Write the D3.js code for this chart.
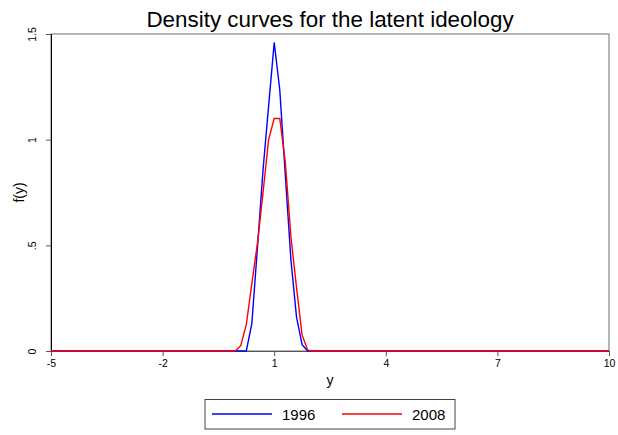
<!DOCTYPE html>
<html>
<head>
<meta charset="utf-8">
<script src="https://cdn.jsdelivr.net/npm/d3@7"></script>
<style>
  body { margin: 0; background: #fff; }
  text { font-family: "Liberation Sans", Arial, sans-serif; fill: #000; }
</style>
</head>
<body>
<div id="chart"></div>
<script>
// evaluation points of the density (zero outside this stretch)
var xs = [-5, -0.05, 0.1, 0.25, 0.4, 0.55, 0.7, 0.85, 1.0, 1.15, 1.3, 1.45, 1.6, 1.75, 1.9, 2.05, 10];
var d1996 = [0, 0, 0, 0, 0.131, 0.49, 0.857, 1.16, 1.46, 1.235, 0.83, 0.43, 0.16, 0.03, 0, 0, 0];
var d2008 = [0, 0, 0.025, 0.125, 0.32, 0.51, 0.75, 1.0, 1.10, 1.10, 0.89, 0.54, 0.30, 0.076, 0.004, 0, 0];
var xTicks = [-5, -2, 1, 4, 7, 10];
var yTicks = [0, 0.5, 1, 1.5];
var yTickLabels = ["0", ".5", "1", "1.5"];
var seriesNames = ["1996", "2008"];
var seriesColors = ["#0000ff", "#ff0000"];

var margin = {top: 34, right: 9, bottom: 84, left: 51},
    width = 618 - margin.left - margin.right,
    height = 435 - margin.top - margin.bottom;

var svg = d3.select("#chart")
    .append("svg")
    .attr("width", 618)
    .attr("height", 435);

var g = svg.append("g")
    .attr("transform", "translate(" + margin.left + "," + margin.top + ")");

var x = d3.scaleLinear().domain([-5, 10]).range([0, width]);
var y = d3.scaleLinear().domain([0, 1.5]).range([height, 0]);

// plot region frame
g.append("rect")
    .attr("x", 0).attr("y", 0)
    .attr("width", width).attr("height", height)
    .attr("fill", "none")
    .attr("stroke", "#6e6e6e")
    .attr("stroke-width", 1);

// y axis
var yAxis = g.append("g")
    .call(d3.axisLeft(y).tickValues(yTicks).tickSize(5)
        .tickFormat(function(d, i) { return yTickLabels[i]; }));
yAxis.select(".domain").attr("stroke", "#000");
yAxis.selectAll(".tick line").attr("stroke", "#555");
yAxis.selectAll(".tick text")
    .attr("x", 0).attr("dy", null)
    .attr("transform", "translate(-15,0) rotate(-90)")
    .attr("text-anchor", "middle")
    .style("font-size", "10.5px")
    .style("font-family", "'Liberation Sans', Arial, sans-serif");

// x axis
var xAxis = g.append("g")
    .attr("transform", "translate(0," + height + ")")
    .call(d3.axisBottom(x).tickValues(xTicks).tickSize(5)
        .tickFormat(function(d) { return String(d); }));
xAxis.select(".domain").attr("stroke", "#555");
xAxis.selectAll(".tick line").attr("stroke", "#555");
xAxis.selectAll(".tick text")
    .attr("y", 9)
    .style("font-size", "10.5px")
    .style("font-family", "'Liberation Sans', Arial, sans-serif");

// curves
var line = d3.line()
    .x(function(d) { return x(d[0]); })
    .y(function(d) { return y(d[1]); });

[d1996, d2008].forEach(function(vals, k) {
    g.append("path")
        .datum(xs.map(function(v, i) { return [v, vals[i]]; }))
        .attr("fill", "none")
        .attr("stroke", seriesColors[k])
        .attr("stroke-width", 1.4)
        .attr("stroke-linejoin", "miter")
        .attr("d", line);
});

// titles
svg.append("text")
    .attr("x", margin.left + width / 2)
    .attr("y", 27)
    .attr("text-anchor", "middle")
    .style("font-size", "22.4px")
    .text("Density curves for the latent ideology");

svg.append("text")
    .attr("x", margin.left + width / 2)
    .attr("y", 385)
    .attr("text-anchor", "middle")
    .style("font-size", "14px")
    .text("y");

svg.append("text")
    .attr("transform", "translate(23.5," + (margin.top + height / 2) + ") rotate(-90)")
    .attr("text-anchor", "middle")
    .style("font-size", "14px")
    .text("f(y)");

// legend
var legend = svg.append("g");
legend.append("rect")
    .attr("x", 205).attr("y", 399.5)
    .attr("width", 250).attr("height", 29.5)
    .attr("fill", "#fff")
    .attr("stroke", "#444")
    .attr("stroke-width", 1);

seriesNames.forEach(function(name, k) {
    var lx = 212 + k * 130;
    legend.append("line")
        .attr("x1", lx).attr("x2", lx + 60)
        .attr("y1", 414).attr("y2", 414)
        .attr("stroke", seriesColors[k])
        .attr("stroke-width", 1.4);
    legend.append("text")
        .attr("x", lx + 70)
        .attr("y", 419.5)
        .style("font-size", "15px")
        .text(name);
});
</script>
</body>
</html>
